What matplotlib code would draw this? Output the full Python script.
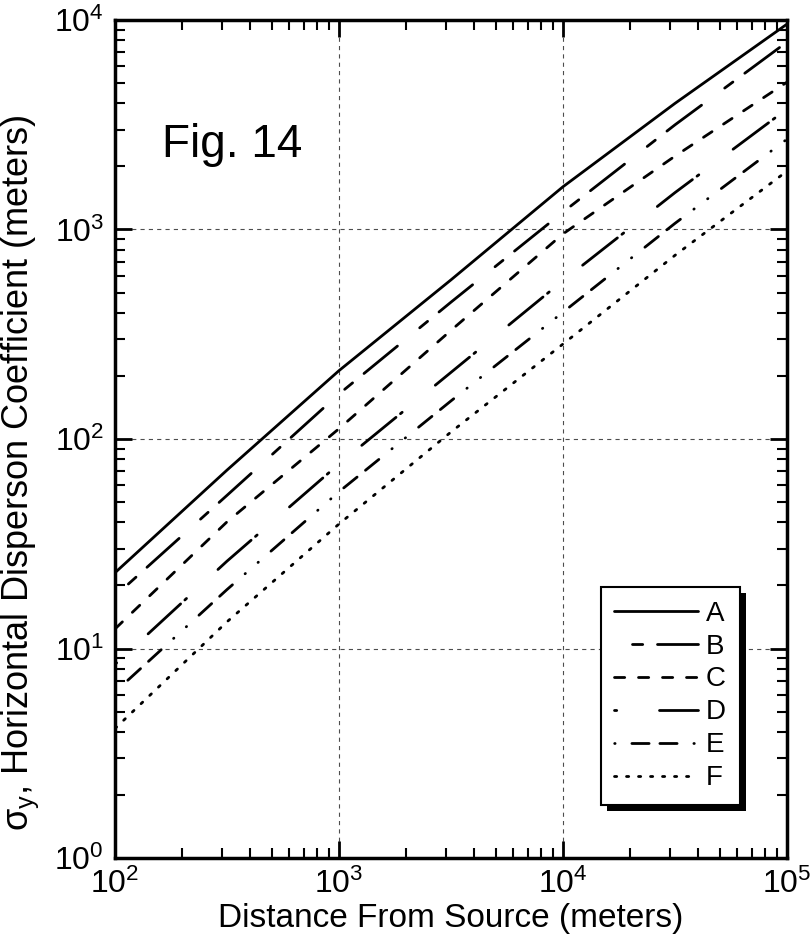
import matplotlib
matplotlib.use("Agg")
import matplotlib.pyplot as plt
from matplotlib.patches import Rectangle
from matplotlib.transforms import IdentityTransform

plt.rcParams["font.family"] = ["Liberation Sans", "DejaVu Sans"]
plt.rcParams["mathtext.fontset"] = "custom"
plt.rcParams["mathtext.rm"] = "Liberation Sans"
plt.rcParams["mathtext.it"] = "Liberation Sans"
plt.rcParams["mathtext.default"] = "regular"
plt.rcParams["lines.scale_dashes"] = False

# downwind distance (m) and sigma_y (m) for each Pasquill stability class
DISTANCE = [1e2, 316, 1e3, 3162, 1e4, 31623, 1e5]
SIGMA_A = [23.0, 71.0, 212.0, 575.0, 1600.0, 4000.0, 9560.0]
SIGMA_B = [17.8, 53.8, 164.0, 450.0, 1211.0, 3160.0, 7850.0]
SIGMA_C = [12.4, 40.2, 112.0, 330.0, 953.0, 2240.0, 5050.0]
SIGMA_D = [8.4, 26.1, 76.0, 208.0, 570.0, 1500.0, 3760.0]
SIGMA_E = [6.2, 19.1, 56.0, 152.0, 403.0, 1070.0, 2700.0]
SIGMA_F = [4.15, 13.4, 39.3, 108.0, 284.0, 753.0, 1900.0]
CLASSES = ["A", "B", "C", "D", "E", "F"]
SERIES = [SIGMA_A, SIGMA_B, SIGMA_C, SIGMA_D, SIGMA_E, SIGMA_F]

DPI = 100
LW = 2.0  # points


def dashes(pattern_px, offset_px=0.0):
    """Dash pattern given in pixels -> points, trimmed for round caps."""
    to_pt = 72.0 / DPI
    cap = LW  # round caps add half a line width at each end
    seq = []
    for i, v in enumerate(pattern_px):
        v = v * to_pt
        seq.append(max(v - cap, 0.3) if i % 2 == 0 else v + cap)
    return (offset_px * to_pt, seq)


STYLE = {
    "A": "-",
    "B": dashes([46, 26, 13, 12], 54),
    "C": dashes([13, 11]),
    "D": dashes([47, 3, 5, 40], 50),
    "E": dashes([20, 8, 20, 14, 3, 14, 3, 14], 79),
    "F": dashes([5, 7]),
}

W, H = 811, 941
fig = plt.figure(figsize=(W / DPI, H / DPI), dpi=DPI)
ax = fig.add_axes([115 / W, 83 / H, 672 / W, 838 / H])

for cls, sig in zip(CLASSES, SERIES):
    ax.plot(DISTANCE, sig, color="black", lw=LW, linestyle=STYLE[cls],
            dash_capstyle="round", solid_capstyle="round", label=cls)

ax.set_xscale("log")
ax.set_yscale("log")
ax.set_xlim(1e2, 1e5)
ax.set_ylim(1e0, 1e4)

ax.grid(True, which="major", color="0.3", lw=0.8, linestyle=(0, (3, 3)))
ax.tick_params(which="both", direction="in", top=True, right=True,
               labelsize=23, pad=8)
ax.tick_params(which="major", length=12, width=2.0)
ax.tick_params(which="minor", length=7, width=1.5)
for sp in ax.spines.values():
    sp.set_linewidth(2.5)

ax.set_xlabel("Distance From Source (meters)", fontsize=24, labelpad=2)
ax.set_ylabel(r"$\sigma_y$, Horizontal Disperson Coefficient (meters)",
              fontsize=26)
ax.yaxis.set_label_coords(-0.11, 0.46)

fig.text(162 / W, 1 - 157 / H, "Fig. 14", fontsize=33,
         ha="left", va="baseline")

leg = ax.legend(loc="lower right", bbox_to_anchor=(0.930, 0.063),
                borderaxespad=0, frameon=True, fancybox=False,
                edgecolor="black", framealpha=1, fontsize=20,
                handlelength=3.0, handletextpad=0.3, labelspacing=0.25,
                borderpad=0.5)
leg.get_frame().set_linewidth(1.5)
leg.set_zorder(5)

# solid drop shadow offset down and to the right of the legend box
fig.canvas.draw()
bb = leg.get_window_extent()
shadow = Rectangle((bb.x0 + 6, bb.y0 - 6), bb.width, bb.height,
                   transform=IdentityTransform(), facecolor="black",
                   edgecolor="none", zorder=4.9, clip_on=False)
ax.add_artist(shadow)

fig.savefig("out.png", dpi=DPI)
